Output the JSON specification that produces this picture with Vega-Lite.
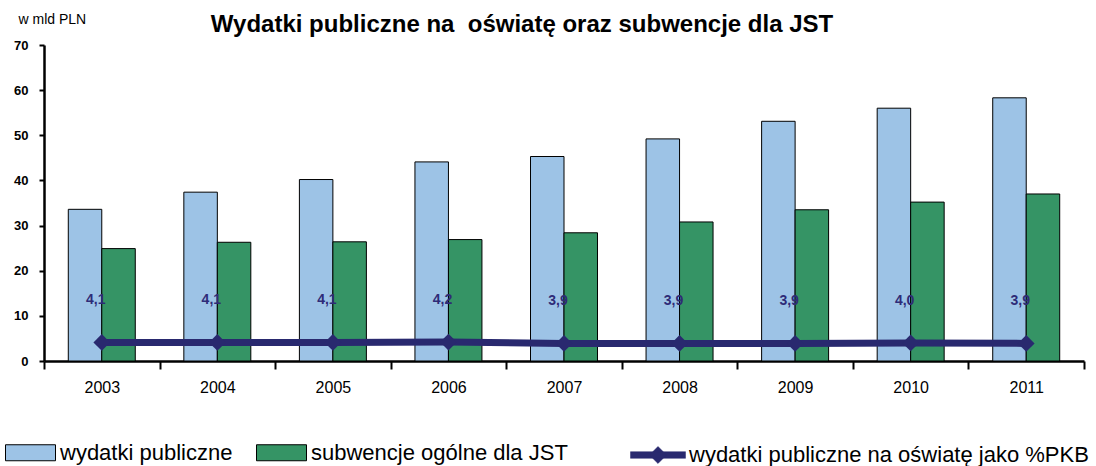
{
  "$schema": "https://vega.github.io/schema/vega-lite/v6.json",
  "width": 1040,
  "height": 316,
  "autosize": {"type": "none"},
  "padding": {"left": 44, "top": 45, "right": 12, "bottom": 105},
  "background": "white",
  "config": {
    "view": {"stroke": null},
    "font": "Liberation Sans",
    "locale": {"number": {"decimal": ",", "thousands": " ", "grouping": [3], "currency": ["", " zł"]}}
  },
  "title": {
    "text": "Wydatki publiczne na\u00a0 oświatę oraz subwencje dla JST",
    "font": "Liberation Sans",
    "fontSize": 24,
    "fontWeight": "bold",
    "color": "black",
    "anchor": "middle",
    "frame": "group",
    "baseline": "alphabetic",
    "offset": -44,
    "dx": -42
  },
  "datasets": {
    "bars": [
      {"year": "2003", "series": "wydatki publiczne", "value": 33.6},
      {"year": "2003", "series": "subwencje ogólne dla JST", "value": 24.9},
      {"year": "2004", "series": "wydatki publiczne", "value": 37.4},
      {"year": "2004", "series": "subwencje ogólne dla JST", "value": 26.3},
      {"year": "2005", "series": "wydatki publiczne", "value": 40.2},
      {"year": "2005", "series": "subwencje ogólne dla JST", "value": 26.4},
      {"year": "2006", "series": "wydatki publiczne", "value": 44.1},
      {"year": "2006", "series": "subwencje ogólne dla JST", "value": 26.9},
      {"year": "2007", "series": "wydatki publiczne", "value": 45.3},
      {"year": "2007", "series": "subwencje ogólne dla JST", "value": 28.4},
      {"year": "2008", "series": "wydatki publiczne", "value": 49.2},
      {"year": "2008", "series": "subwencje ogólne dla JST", "value": 30.8},
      {"year": "2009", "series": "wydatki publiczne", "value": 53.1},
      {"year": "2009", "series": "subwencje ogólne dla JST", "value": 33.5},
      {"year": "2010", "series": "wydatki publiczne", "value": 56.0},
      {"year": "2010", "series": "subwencje ogólne dla JST", "value": 35.2},
      {"year": "2011", "series": "wydatki publiczne", "value": 58.3},
      {"year": "2011", "series": "subwencje ogólne dla JST", "value": 37.0}
    ],
    "pct": [
      {"year": "2003", "series": "wydatki publiczne na oświatę jako %PKB", "pct": 4.1},
      {"year": "2004", "series": "wydatki publiczne na oświatę jako %PKB", "pct": 4.1},
      {"year": "2005", "series": "wydatki publiczne na oświatę jako %PKB", "pct": 4.1},
      {"year": "2006", "series": "wydatki publiczne na oświatę jako %PKB", "pct": 4.2},
      {"year": "2007", "series": "wydatki publiczne na oświatę jako %PKB", "pct": 3.9},
      {"year": "2008", "series": "wydatki publiczne na oświatę jako %PKB", "pct": 3.9},
      {"year": "2009", "series": "wydatki publiczne na oświatę jako %PKB", "pct": 3.9},
      {"year": "2010", "series": "wydatki publiczne na oświatę jako %PKB", "pct": 4.0},
      {"year": "2011", "series": "wydatki publiczne na oświatę jako %PKB", "pct": 3.9}
    ]
  },
  "encoding": {
    "x": {
      "field": "year",
      "type": "nominal",
      "title": null,
      "scale": {"paddingInner": 0, "paddingOuter": 0},
      "axis": {
        "tickBand": "extent",
        "labelAngle": 0,
        "labelFont": "Liberation Sans",
        "labelFontSize": 16,
        "labelColor": "black",
        "labelPadding": 10,
        "tickSize": 8,
        "tickWidth": 2,
        "tickColor": "black",
        "domainColor": "black",
        "domainWidth": 2.5
      }
    }
  },
  "layer": [
    {
      "data": {"name": "bars"},
      "mark": {"type": "bar", "stroke": "black", "strokeWidth": 1},
      "encoding": {
        "xOffset": {
          "field": "series",
          "type": "nominal",
          "sort": ["wydatki publiczne", "subwencje ogólne dla JST"],
          "scale": {"paddingInner": 0, "paddingOuter": 0.725}
        },
        "y": {
          "field": "value",
          "type": "quantitative",
          "scale": {"domain": [0, 70], "nice": false},
          "axis": {
            "values": [0, 10, 20, 30, 40, 50, 60, 70],
            "grid": false,
            "title": "w mld PLN",
            "titleAngle": 0,
            "titleAlign": "left",
            "titleBaseline": "alphabetic",
            "titleX": -26,
            "titleY": -22,
            "titleFont": "Liberation Sans",
            "titleFontSize": 14,
            "titleFontWeight": "normal",
            "titleColor": "black",
            "labelFont": "Liberation Sans",
            "labelFontSize": 13,
            "labelFontWeight": "bold",
            "labelColor": "black",
            "labelPadding": 11,
            "tickSize": 5,
            "tickWidth": 2,
            "tickColor": "black",
            "domainColor": "black",
            "domainWidth": 2.5
          }
        },
        "color": {
          "field": "series",
          "type": "nominal",
          "scale": {
            "domain": ["wydatki publiczne", "subwencje ogólne dla JST"],
            "range": ["#9DC3E6", "#359465"]
          },
          "legend": {
            "title": null,
            "orient": "none",
            "legendX": -39,
            "legendY": 382,
            "direction": "horizontal",
            "padding": 0,
            "columnPadding": 21,
            "symbolType": "M-1,-0.32H1V0.32H-1Z",
            "symbolSize": 2500,
            "symbolStrokeColor": "black",
            "symbolStrokeWidth": 1,
            "symbolOpacity": 1,
            "labelFont": "Liberation Sans",
            "labelFontSize": 22,
            "labelColor": "black",
            "labelLimit": 600,
            "labelOffset": 4
          }
        }
      }
    },
    {
      "data": {"name": "pct"},
      "mark": {"type": "line", "strokeWidth": 7},
      "encoding": {
        "y": {"field": "pct", "type": "quantitative"},
        "stroke": {
          "field": "series",
          "type": "nominal",
          "scale": {"range": ["#29296F"]},
          "legend": {
            "title": null,
            "orient": "none",
            "legendX": 586,
            "legendY": 382,
            "direction": "horizontal",
            "padding": 0,
            "symbolType": "M-1,-0.12H1V0.12H-1Z M-0.31,0L0,-0.31L0.31,0L0,0.31Z",
            "symbolSize": 3025,
            "symbolFillColor": "#29296F",
            "symbolStrokeColor": "#29296F",
            "symbolStrokeWidth": 0.5,
            "labelFont": "Liberation Sans",
            "labelFontSize": 22,
            "labelColor": "black",
            "labelLimit": 600,
            "labelOffset": 3,
            "encode": {"symbols": {"update": {"fill": {"value": "#29296F"}, "opacity": {"value": 1}}}}
          }
        }
      }
    },
    {
      "data": {"name": "pct"},
      "mark": {"type": "point", "shape": "diamond", "size": 280, "filled": true, "color": "#29296F", "opacity": 1},
      "encoding": {
        "y": {"field": "pct", "type": "quantitative"}
      }
    },
    {
      "data": {"name": "pct"},
      "mark": {"type": "text", "font": "Liberation Sans", "fontSize": 14, "fontWeight": "bold", "color": "#2E2B78", "dx": -6, "dy": -42},
      "encoding": {
        "y": {"field": "pct", "type": "quantitative"},
        "text": {"field": "pct", "type": "quantitative", "format": ".1f"}
      }
    }
  ]
}
